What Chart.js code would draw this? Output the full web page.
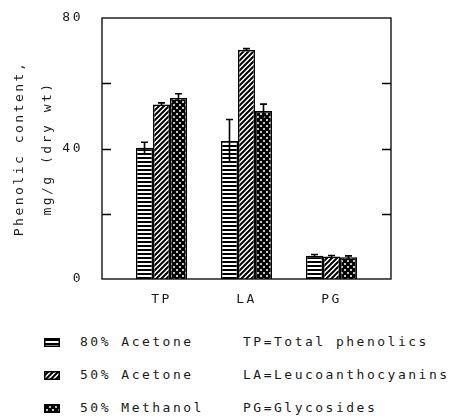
<!DOCTYPE html>
<html>
<head>
<meta charset="utf-8">
<script src="https://cdn.jsdelivr.net/npm/chart.js@4.4.1/dist/chart.umd.min.js"></script>
<style>
  body { margin: 0; background: #fff; }
  #wrap { position: relative; width: 451px; height: 418px; }
  #chart-box { position: absolute; left: 0; top: 0; width: 451px; height: 320px; }
  .row { position: absolute; left: 0; height: 16px; line-height: 16px;
         font: 13px "DejaVu Sans Mono", monospace; letter-spacing: 2.5px; color: #1a1a1a; white-space: pre; }
  .row canvas { position: absolute; left: 44px; top: 4px; }
  .row .name { position: absolute; left: 80px; }
  .row .abbr { position: absolute; left: 243px; }
</style>
</head>
<body>
<div id="wrap">
  <div id="chart-box"><canvas id="chart"></canvas></div>
  <div id="legend"></div>
</div>
<script>
// datos
const categories = ['TP', 'LA', 'PG'];
const seriesNames = ['80% Acetone', '50% Acetone', '50% Methanol'];
const acetone80 = [40.2, 42.3, 7.1];
const acetone50 = [53.5, 70.2, 6.9];
const methanol50 = [55.5, 51.5, 6.7];
const acetone80Err = [1.7, 6.6, 0.4];
const acetone50Err = [0.5, 0.4, 0.3];
const methanol50Err = [1.3, 2.1, 0.4];
const abbreviations = ['TP=Total phenolics', 'LA=Leucoanthocyanins', 'PG=Glycosides'];
const yLabeled = [0, 40, 80];

const seriesValues = [acetone80, acetone50, methanol50];
const seriesErrors = [acetone80Err, acetone50Err, methanol50Err];
const FONT = '"DejaVu Sans Mono", monospace';
const INK = '#1a1a1a';

// tramas de relleno
function makePattern(kind) {
  const size = kind === 'lines' ? 4 : kind === 'diag' ? 5 : 6;
  const c = document.createElement('canvas');
  c.width = size; c.height = size;
  const g = c.getContext('2d');
  g.fillStyle = '#fff';
  g.fillRect(0, 0, size, size);
  g.fillStyle = '#000';
  g.strokeStyle = '#000';
  if (kind === 'lines') {
    g.fillRect(0, 1, size, 2);
  } else {
    g.lineWidth = kind === 'diag' ? 2 : 2.4;
    const diag = () => {
      g.beginPath();
      g.moveTo(-1, size + 1); g.lineTo(size + 1, -1);
      g.moveTo(-size - 1, size + 1); g.lineTo(1, -1);
      g.moveTo(size - 1, size + 1); g.lineTo(2 * size + 1, -1);
      g.stroke();
    };
    diag();
    if (kind === 'cross') {
      g.translate(size, 0); g.scale(-1, 1);
      diag();
    }
  }
  return g.createPattern(c, 'repeat');
}
const kinds = ['lines', 'diag', 'cross'];
const patterns = kinds.map(makePattern);

const spacing = {
  id: 'spacing',
  beforeUpdate(chart) { chart.ctx.letterSpacing = '2.5px'; },
  beforeDraw(chart) { chart.ctx.letterSpacing = '2.5px'; }
};

const errorBars = {
  id: 'errorBars',
  afterDatasetsDraw(chart) {
    const ctx = chart.ctx;
    const y = chart.scales.y;
    ctx.save();
    ctx.strokeStyle = '#000';
    ctx.lineWidth = 1.6;
    chart.data.datasets.forEach((ds, i) => {
      chart.getDatasetMeta(i).data.forEach((bar, j) => {
        const v = seriesValues[i][j], e = seriesErrors[i][j];
        const top = y.getPixelForValue(v + e);
        const bottom = y.getPixelForValue(v - e);
        ctx.beginPath();
        ctx.moveTo(bar.x, bottom); ctx.lineTo(bar.x, top);
        ctx.moveTo(bar.x - 3.5, top); ctx.lineTo(bar.x + 3.5, top);
        ctx.stroke();
      });
    });
    ctx.restore();
  }
};

const frame = {
  id: 'frame',
  afterDraw(chart) {
    const { ctx, chartArea: a } = chart;
    const y = chart.scales.y;
    ctx.save();
    ctx.strokeStyle = '#000';
    ctx.lineWidth = 1.3;
    ctx.strokeRect(a.left, a.top, a.right - a.left, a.bottom - a.top);
    ctx.lineWidth = 1.5;
    y.ticks.forEach(t => {
      if (t.value === y.min || t.value === y.max) return;
      const py = Math.round(y.getPixelForValue(t.value)) + 0.5;
      ctx.beginPath();
      ctx.moveTo(a.left, py); ctx.lineTo(a.left + 9, py);
      ctx.moveTo(a.right - 9, py); ctx.lineTo(a.right, py);
      ctx.stroke();
    });
    ctx.restore();
  }
};

new Chart(document.getElementById('chart'), {
  type: 'bar',
  data: {
    datasets: seriesNames.map((name, i) => ({
      label: name,
      data: seriesValues[i].map((v, j) => ({ x: j + 1, y: v })),
      backgroundColor: patterns[i],
      borderColor: '#000',
      borderWidth: 1.5,
      categoryPercentage: 0.6,
      barPercentage: 1
    }))
  },
  options: {
    responsive: true,
    maintainAspectRatio: false,
    animation: false,
    layout: { padding: { top: 18, right: 60, left: 0, bottom: 11 } },
    plugins: { legend: { display: false }, tooltip: { enabled: false } },
    scales: {
      x: {
        type: 'linear',
        offset: false,
        min: 0.3,
        max: 3.7,
        afterBuildTicks: s => { s.ticks = categories.map((c, i) => ({ value: i + 1 })); },
        afterFit: s => { s.height = 30; },
        grid: { display: false, drawTicks: false },
        border: { display: false },
        ticks: {
          padding: 13,
          color: INK,
          font: { family: FONT, size: 13 },
          callback: v => categories[v - 1]
        }
      },
      y: {
        min: 0,
        max: 80,
        afterFit: s => { s.width = 102; },
        grid: { display: false, drawTicks: true, tickLength: 16 },
        border: { display: false },
        ticks: {
          stepSize: 20,
          padding: 3,
          color: INK,
          font: { family: FONT, size: 13 },
          callback: v => yLabeled.includes(v) ? v : ''
        },
        title: {
          display: true,
          text: ['Phenolic content,', 'mg/g (dry wt)'],
          color: INK,
          font: { family: FONT, size: 13, lineHeight: '28px' },
          padding: { top: 6, bottom: 0 }
        }
      }
    }
  },
  plugins: [spacing, errorBars, frame]
});

// leyenda en HTML
const legend = document.getElementById('legend');
const rowTops = [334, 367, 400];
seriesNames.forEach((name, i) => {
  const row = document.createElement('div');
  row.className = 'row';
  row.style.top = rowTops[i] + 'px';
  row.style.width = '451px';
  const sw = document.createElement('canvas');
  sw.width = 16; sw.height = 9;
  const g = sw.getContext('2d');
  g.fillStyle = makePattern(kinds[i]);
  g.fillRect(0, 0, 16, 9);
  g.strokeStyle = '#000';
  g.lineWidth = 1.5;
  g.strokeRect(0.75, 0.75, 14.5, 7.5);
  row.appendChild(sw);
  const n = document.createElement('span');
  n.className = 'name';
  n.textContent = name;
  row.appendChild(n);
  const ab = document.createElement('span');
  ab.className = 'abbr';
  ab.textContent = abbreviations[i];
  row.appendChild(ab);
  legend.appendChild(row);
});
</script>
</body>
</html>
